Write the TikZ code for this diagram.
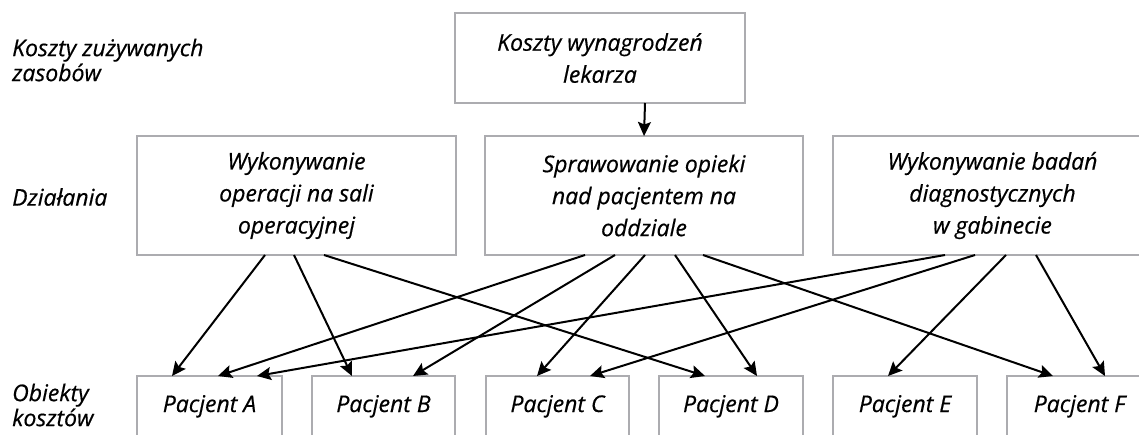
\documentclass[tikz,border=0pt]{standalone}
\usepackage{fontspec}
\setmainfont{Open Sans}[ItalicFeatures={FakeBold=0.5}]
\usetikzlibrary{arrows.meta,calc}
\definecolor{boxgray}{RGB}{172,172,176}
\tikzset{
  txt/.style={font=\fontsize{23}{32}\selectfont\itshape},
  lbl/.style={font=\fontsize{23}{25}\selectfont\itshape, align=left, anchor=west, inner sep=0pt},
  box/.style={txt, draw=boxgray, line width=2.4pt, outer sep=0pt, inner sep=0pt,
    anchor=north west, align=center},
  actbox/.style={box, minimum width=319pt, minimum height=119pt},
  patbox/.style={box, minimum width=145pt, text height=36pt, text depth=30pt},
  arr/.style={line width=2pt, -{Stealth[length=14pt,width=13pt,inset=2.5pt]}}
}
\begin{document}
\begin{tikzpicture}[x=1pt,y=-1pt]
\useasboundingbox (0,0) rectangle (1139,434);

% row labels
\node[lbl] (l1) at (12,60) {Koszty zużywanych\\zasobów};
\node[lbl] (l2) at (12,197) {Działania};
\node[lbl] (l3) at (12,405) {Obiekty\\kosztów};

% resource
\node[box, minimum width=290pt, minimum height=90pt] (res) at (455,13)
  {Koszty wynagrodzeń\\lekarza};

% activities
\node[actbox] (op)  at (137,136) {Wykonywanie\\operacji na sali\\operacyjnej};
\node[actbox, minimum width=318pt] (opk) at (485,136) {Sprawowanie opieki\\nad pacjentem na\\oddziale};
\node[actbox] (bad) at (833,136) {Wykonywanie badań\\diagnostycznych\\w gabinecie};

% cost objects
\node[patbox] (pA) at (137,376) {Pacjent A};
\node[patbox, minimum width=143pt] (pB) at (312,376) {Pacjent B};
\node[patbox, minimum width=143pt] (pC) at (486,376) {Pacjent C};
\node[patbox, minimum width=144pt] (pD) at (659,376) {Pacjent D};
\node[patbox, minimum width=144pt] (pE) at (833,376) {Pacjent E};
\node[patbox] (pF) at (1007,376) {Pacjent F};

% resource -> activity
\draw[arr] ($(res.south west)+(190,0)$) -- (opk.north);

% operations
\draw[arr] ($(op.south west)+(128,0)$) -- ($(pA.north west)+(35,0)$);
\draw[arr] ($(op.south west)+(157,0)$) -- ($(pB.north west)+(40,0)$);
\draw[arr] ($(op.south west)+(187,0)$) -- ($(pD.north west)+(46,0)$);

% ward care
\draw[arr] ($(opk.south west)+(100,0)$) -- ($(pA.north west)+(81,0)$);
\draw[arr] ($(opk.south west)+(130,0)$) -- ($(pB.north west)+(101,0)$);
\draw[arr] ($(opk.south west)+(160,0)$) -- ($(pC.north west)+(51,0)$);
\draw[arr] ($(opk.south west)+(190,0)$) -- ($(pD.north west)+(98,0)$);
\draw[arr] ($(opk.south west)+(218,0)$) -- ($(pF.north west)+(46,0)$);

% diagnostics
\draw[arr] ($(bad.south west)+(112,0)$) -- ($(pA.north west)+(120,0)$);
\draw[arr] ($(bad.south west)+(142,0)$) -- ($(pC.north west)+(104,0)$);
\draw[arr] ($(bad.south west)+(173,0)$) -- ($(pE.north west)+(55,0)$);
\draw[arr] ($(bad.south west)+(203,0)$) -- ($(pF.north west)+(98,0)$);
\end{tikzpicture}
\end{document}
